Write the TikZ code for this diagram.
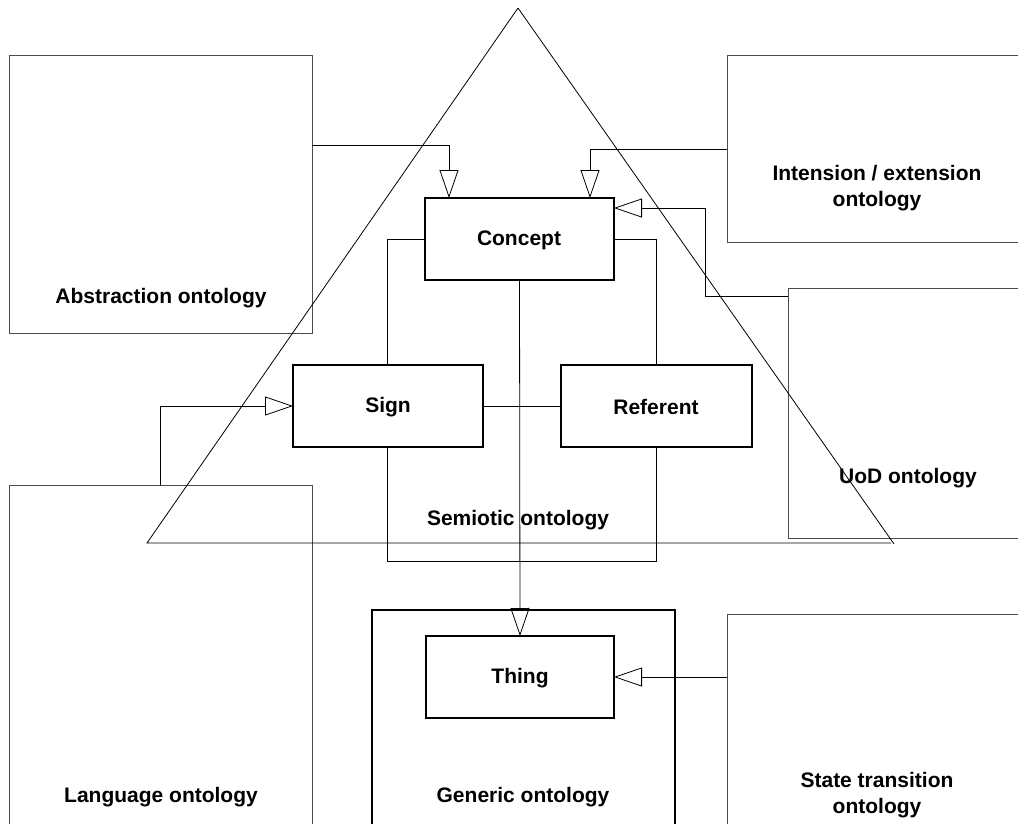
\documentclass[tikz,border=0pt]{standalone}
\usepackage{fontspec}
\setmainfont{Liberation Sans}
\usetikzlibrary{arrows.meta,calc}

\begin{document}
\begin{tikzpicture}[x=1pt,y=-1pt,
  outerbox/.style={draw=black!70, line width=0.8pt, inner sep=0pt, outer sep=0pt, anchor=north west},
  corebox/.style={draw=black, line width=1.7pt, fill=white, inner sep=0pt, outer sep=0pt, anchor=north west},
  genbox/.style={draw=black, line width=2.6pt, inner sep=0pt, outer sep=0pt, anchor=north west},
  lbl/.style={font=\bfseries\fontsize{21}{26}\selectfont, align=center, inner sep=0pt},
  link/.style={draw=black, line width=0.8pt},
  arr/.style={link, -{Triangle[open, length=28pt, width=19pt, line width=0.8pt]}},
  tri/.style={draw=black, line width=0.8pt}
]
\useasboundingbox (0,0) rectangle (1018,823);
\clip (0,0) rectangle (1018,823);
\fill[white] (0,0) rectangle (1018,823);

% semiotic ontology frame behind the three core boxes
\node[outerbox, draw=black, minimum width=269pt, minimum height=322pt] (sem) at (387,239) {};

% core boxes of the semiotic triangle
\node[corebox, minimum width=189pt, minimum height=82pt] (con) at (425,198) {};
\node[corebox, minimum width=190pt, minimum height=82pt] (sign) at (293,365) {};
\node[corebox, minimum width=191pt, minimum height=82pt] (ref) at (561,365) {};

% surrounding ontologies
\node[outerbox, minimum width=303pt, minimum height=278pt] (abs) at (9,55) {};
\node[outerbox, minimum width=303pt, minimum height=187pt] (int) at (727,55) {};
\node[outerbox, minimum width=303pt, minimum height=250pt] (uod) at (788,288) {};
\node[outerbox, minimum width=303pt, minimum height=400pt] (lang) at (9,485) {};
\node[outerbox, minimum width=303pt, minimum height=400pt] (state) at (727,614) {};

% the semiotic triangle
\draw[tri] (518,8) -- (147,543) -- (891,543);
\draw[tri] (518,8) -- (894,544);

% generic ontology and thing
\node[genbox, minimum width=303pt, minimum height=400pt] (gen) at (372,610) {};
\node[corebox, minimum width=188pt, minimum height=82pt] (thing) at (426,636) {};

% connectors
\draw[link] (sign.east) -- (ref.west);
\draw[arr] (abs.east |- 0,145) -| ($(con.north west)+(24,0)$);
\draw[arr] (int.west |- 0,149) -| ($(con.north east)+(-24,0)$);
\draw[arr] (uod.west |- 0,296) -- (705,296) |- ($(con.north east)+(0,10)$);
\draw[arr] (lang.north) |- (sign.west);
\draw[arr] (con.south) -- (thing.north);
\draw[arr] (state.west |- thing.east) -- (thing.east);

% labels
\node[lbl] (conT) at (519,240) {Concept};
\node[lbl] (signT) at (388,407) {Sign};
\node[lbl] (refT) at (656,407) {Referent};
\node[lbl] (semT) at (518,520) {Semiotic ontology};
\node[lbl] (thingT) at (520,678) {Thing};
\node[lbl] (absT) at (161,298) {Abstraction ontology};
\node[lbl] (intT) at (877,188) {Intension / extension\\ontology};
\node[lbl] (uodT) at (908,478) {UoD ontology};
\node[lbl] (langT) at (161,797) {Language ontology};
\node[lbl] (genT) at (523,797) {Generic ontology};
\node[lbl] (stateT) at (877,795) {State transition\\ontology};
\end{tikzpicture}
\end{document}
